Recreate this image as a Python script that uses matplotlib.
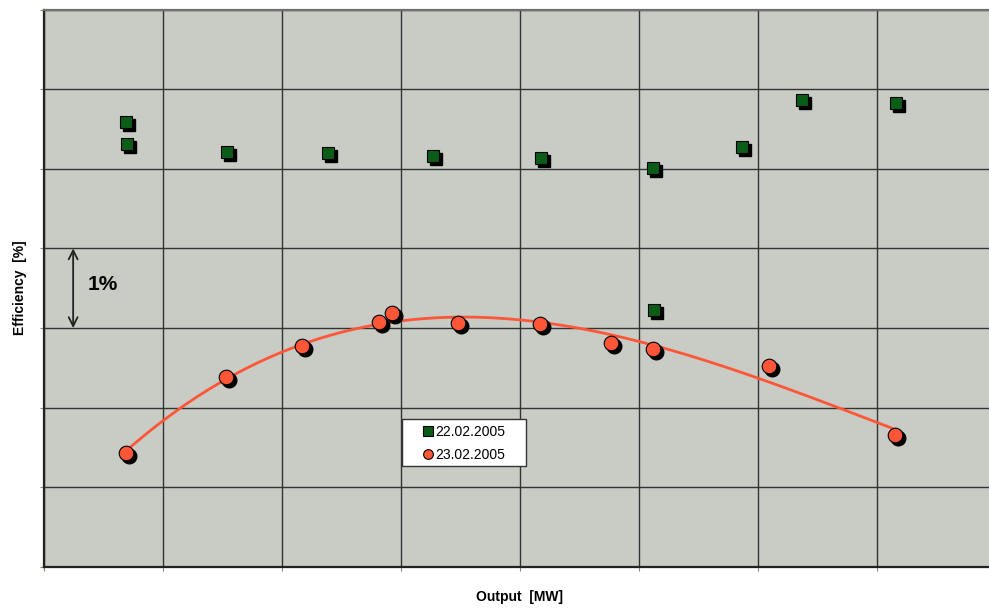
import numpy as np
import matplotlib
matplotlib.use("Agg")
import matplotlib.pyplot as plt
import matplotlib.transforms as mtransforms
from matplotlib.lines import Line2D
from matplotlib.patches import Rectangle

plt.rcParams['font.family'] = ['Liberation Sans', 'DejaVu Sans']

# Output in grid units, efficiency in %
out_0222 = [0.689, 0.697, 1.538, 2.387, 3.269, 4.176, 5.118, 5.866, 6.370, 7.160, 5.126]
eff_0222 = [94.59, 94.31, 94.21, 94.20, 94.16, 94.135, 94.01, 94.27, 94.86, 94.83, 92.23]

out_0223 = [0.689, 1.529, 2.168, 2.815, 2.924, 3.479, 4.168, 4.765, 5.118, 6.092, 7.151]
eff_0223 = [90.43, 91.385, 91.775, 92.076, 92.189, 92.063, 92.051, 91.812, 91.737, 91.524, 90.657]

labels = ['22.02.2005', '23.02.2005']

BG = '#c9cbc5'
GREEN = '#0b5c17'
RED = '#ff5638'

fig = plt.figure(figsize=(9.89, 6.08), dpi=100)
W, H = 989, 608
ax = fig.add_axes([44 / W, (H - 567) / H, 952 / W, 557.5 / H])
ax.set_facecolor(BG)
ax.set_xlim(0, 8)
ax.set_ylim(89, 96)
ax.set_xticks(np.arange(0, 9))
ax.set_yticks(np.arange(89, 97))
ax.set_xticklabels([])
ax.set_yticklabels([])
ax.tick_params(direction='out', length=3, width=0.8, color='#888888')
ax.grid(True, color='#333333', linewidth=1.0)
ax.set_axisbelow(True)

for side in ['left', 'bottom']:
    ax.spines[side].set_color('#222222')
    ax.spines[side].set_linewidth(1.6)
ax.spines['top'].set_color('#707070')
ax.spines['top'].set_linewidth(1.6)
ax.spines['right'].set_visible(False)

# Trend line through the 23.02 measurements
coef = np.polyfit(out_0223, eff_0223, 3)
xs = np.linspace(min(out_0223), max(out_0223), 300)
ax.plot(xs, np.polyval(coef, xs), color=RED, linewidth=2.0, zorder=3)

# Markers with a drop shadow
shadow = mtransforms.offset_copy(ax.transData, fig=fig, x=3, y=-3, units='dots')
ax.plot(out_0222, eff_0222, 's', ms=8.5, color='black', transform=shadow, zorder=4)
ax.plot(out_0222, eff_0222, 's', ms=8.5, mfc=GREEN, mec='black', mew=0.8, zorder=5)
ax.plot(out_0223, eff_0223, 'o', ms=10.5, color='black', transform=shadow, zorder=4)
ax.plot(out_0223, eff_0223, 'o', ms=10.5, mfc=RED, mec='black', mew=0.8, zorder=5)

# Legend box
ax.add_patch(Rectangle((0.376, 0.181), 0.130, 0.0845, transform=ax.transAxes,
                       facecolor='white', edgecolor='#333333', linewidth=1.0,
                       zorder=6))
handles = [
    Line2D([], [], marker='s', ls='none', ms=6.5, mfc=GREEN, mec='black', mew=0.8),
    Line2D([], [], marker='o', ls='none', ms=7, mfc=RED, mec='black', mew=0.8),
]
leg = ax.legend(handles, labels, loc='center', bbox_to_anchor=(0.4415, 0.2215),
                fontsize=10, frameon=False, handlelength=0.6, handletextpad=0.25,
                borderpad=0.0, labelspacing=0.6, borderaxespad=0)
leg.set_zorder(7)

# 1 % scale bar
ax.annotate('', xy=(0.245, 93.0), xytext=(0.245, 92.0),
            arrowprops=dict(arrowstyle='<->', color='#222222', lw=1.3,
                            mutation_scale=16, shrinkA=0, shrinkB=0))
ax.text(0.37, 92.55, '1%', fontsize=15, fontweight='bold', ha='left', va='center')

fig.text(20 / W, 1 - 288 / H, 'Efficiency  [%]', rotation=90, fontsize=10,
         fontweight='bold', ha='center', va='center')
fig.text(520 / W, 1 - 597 / H, 'Output  [MW]', fontsize=10,
         fontweight='bold', ha='center', va='center')

fig.savefig('out.png', dpi=100)
